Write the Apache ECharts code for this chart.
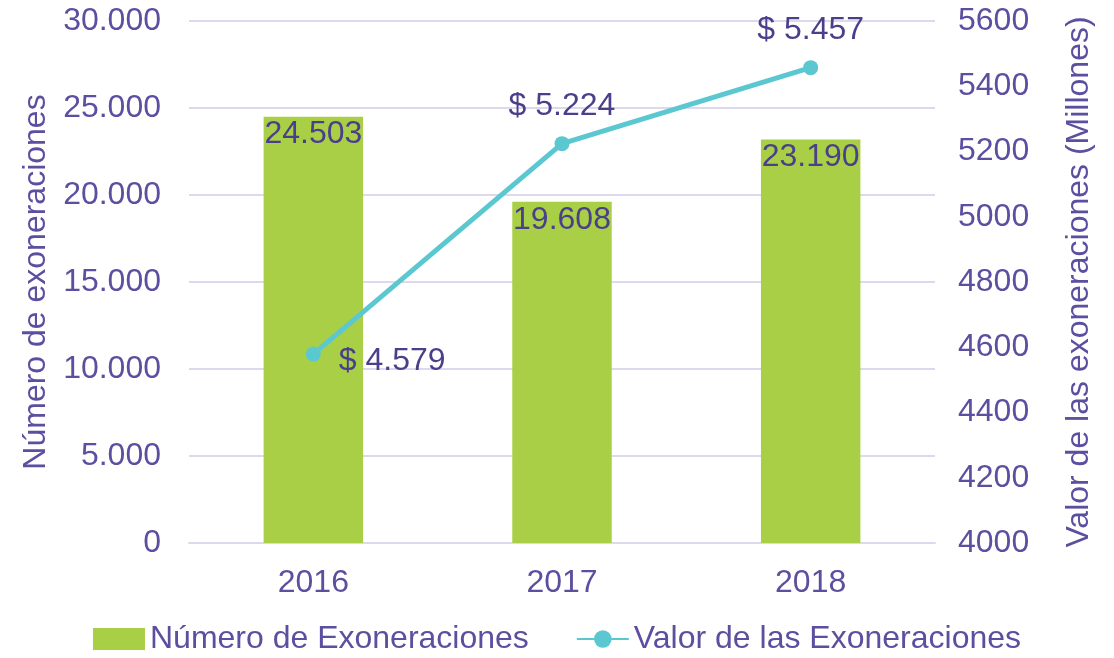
<!DOCTYPE html>
<html>
<head>
<meta charset="utf-8">
<script src="https://cdn.jsdelivr.net/npm/echarts@6/dist/echarts.min.js"></script>
<style>
  html, body { margin: 0; padding: 0; background: #fff; }
  #chart { width: 1114px; height: 658px; }
</style>
</head>
<body>
<div id="chart"></div>
<script>
const years = ['2016', '2017', '2018'];
const numExoneraciones = [24503, 19608, 23190];
const valorExoneraciones = [4579, 5224, 5457];

const purple = '#5b4fa0';
const labelPurple = '#4b3f8c';
const font = 'Liberation Sans, Arial, sans-serif';

const dots = (v) => String(v).replace(/\B(?=(\d{3})+(?!\d))/g, '.');

const chart = echarts.init(document.getElementById('chart'));

chart.setOption({
  backgroundColor: '#fff',
  textStyle: { fontFamily: font },
  grid: { left: 189, right: 179, top: 21, bottom: 115 },
  legend: {
    bottom: -2,
    left: 'center',
    itemWidth: 52,
    itemHeight: 22,
    itemGap: 47,
    textStyle: { color: purple, fontSize: 32, fontFamily: font },
    data: [
      { name: 'Número de Exoneraciones', icon: 'rect' },
      'Valor de las Exoneraciones'
    ]
  },
  xAxis: {
    type: 'category',
    data: years,
    axisLine: { lineStyle: { color: '#dcd9ec', width: 2 } },
    axisTick: { show: false },
    axisLabel: { color: purple, fontSize: 32, margin: 24 }
  },
  yAxis: [
    {
      type: 'value',
      min: 0,
      max: 30000,
      interval: 5000,
      name: 'Número de exoneraciones',
      nameLocation: 'middle',
      nameGap: 133,
      nameTextStyle: { color: purple, fontSize: 32 },
      axisLine: { show: false },
      axisTick: { show: false },
      axisLabel: { color: purple, fontSize: 32, margin: 28, formatter: dots },
      splitLine: { lineStyle: { color: '#dcd9ec', width: 2 } }
    },
    {
      type: 'value',
      min: 4000,
      max: 5600,
      interval: 200,
      name: 'Valor de las exoneraciones (Millones)',
      nameLocation: 'middle',
      nameGap: 128,
      nameRotate: 90,
      nameTextStyle: { color: purple, fontSize: 32 },
      axisLine: { show: false },
      axisTick: { show: false },
      axisLabel: { color: purple, fontSize: 32, margin: 23, formatter: (v) => String(v) },
      splitLine: { show: false }
    }
  ],
  series: [
    {
      name: 'Número de Exoneraciones',
      type: 'bar',
      data: numExoneraciones,
      barWidth: '40%',
      itemStyle: { color: '#a8cf45' },
      label: {
        show: true,
        position: 'insideTop',
        distance: 2,
        color: labelPurple,
        fontSize: 32,
        formatter: (p) => dots(p.value)
      }
    },
    {
      name: 'Valor de las Exoneraciones',
      type: 'line',
      yAxisIndex: 1,
      data: valorExoneraciones.map((v, i) => ({
        value: v,
        label: i === 0 ? { position: 'right', distance: 18, offset: [0, 7] } : { position: 'top', distance: 14 }
      })),
      symbol: 'circle',
      symbolSize: 15,
      lineStyle: { color: '#5bc8d1', width: 5 },
      itemStyle: { color: '#5bc8d1' },
      label: {
        show: true,
        color: labelPurple,
        fontSize: 32,
        formatter: (p) => '$ ' + dots(p.value)
      }
    }
  ]
});

window.addEventListener('resize', () => chart.resize());
</script>
</body>
</html>
